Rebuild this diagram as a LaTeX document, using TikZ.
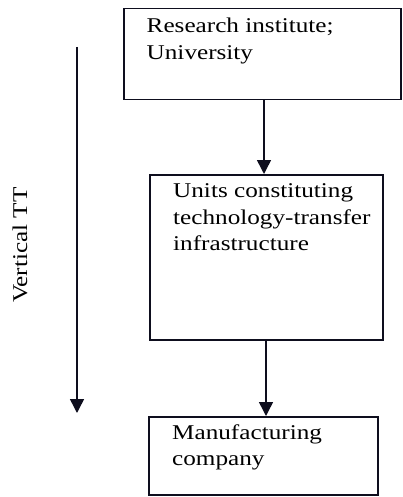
\documentclass[tikz,border=0pt]{standalone}
\usepackage{fontspec}
\setmainfont[FakeStretch=1.2]{Liberation Serif}
\usetikzlibrary{arrows.meta}
\definecolor{lineclr}{RGB}{14,14,30}
\begin{document}
\begin{tikzpicture}[x=1pt,y=-1pt,
  box/.style={draw=lineclr, line width=1.5pt, rectangle, inner sep=0pt, anchor=north west},
  txt/.style={inner sep=0pt, anchor=north west, align=left,
    font=\fontsize{21}{26.5}\selectfont},
  arr/.style={draw=lineclr, line width=1.5pt,
    -{Triangle[length=14pt,width=14pt]}}]
\useasboundingbox (0,0) rectangle (402,497);

% boxes
\node[box, minimum width=277pt, minimum height=91pt] (b1) at (123,8) {};
\node[box, minimum width=233pt, minimum height=165pt] (b2) at (149,174) {};
\node[box, minimum width=229pt, minimum height=78pt] (b3) at (148,416) {};

% box captions
\node[txt] (t1) at (146.5,14.2) {\strut Research institute;\\University};
\node[txt] (t2) at (173,179) {\strut Units constituting\\technology-transfer\\infrastructure};
\node[txt] (t3) at (172,420.5) {\strut Manufacturing\\company};

% flow arrows between boxes
\coordinate (x1) at (264,0);
\coordinate (x2) at (266,0);
\draw[arr] (b1.south -| x1) -- (b2.north -| x1);
\draw[arr] (b2.south -| x2) -- (b3.north -| x2);

% direction arrow with its label
\coordinate (vtop) at (77,47);
\coordinate (vbot) at (77,413);
\draw[arr] (vtop) -- (vbot);
\node[rotate=90, anchor=base, inner sep=0pt, font=\fontsize{21}{26.5}\selectfont]
  (vl) at (27,245) {Vertical TT};
\end{tikzpicture}
\end{document}
